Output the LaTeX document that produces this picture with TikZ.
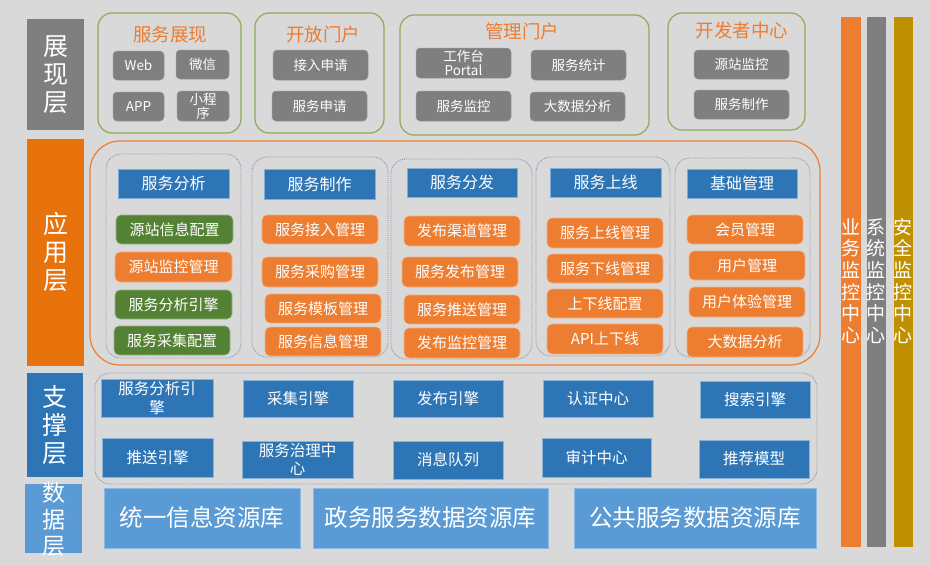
\documentclass[tikz,border=0pt]{standalone}
\usepackage{fontspec}
\setmainfont{Noto Sans CJK SC}
\usetikzlibrary{fit}
\definecolor{bgc}{HTML}{D9D9D9}
\definecolor{gry}{HTML}{7F7F7F}
\definecolor{org}{HTML}{ED7D31}
\definecolor{dorg}{HTML}{E8720C}
\definecolor{blu}{HTML}{2E75B6}
\definecolor{lblu}{HTML}{5B9BD5}
\definecolor{grn}{HTML}{548235}
\definecolor{ggrp}{HTML}{8DAA5A}
\definecolor{gold}{HTML}{BF9000}
\definecolor{dotc}{HTML}{8497B0}
\newcommand{\myfs}[2]{\fontsize{#1}{#2}\selectfont}
\newcommand{\mybox}[7]{\node[#1, fit={(#3,#4) (#5,#6)}] (#2) {};
  \node[#1, draw=none, fill=none, inner sep=0pt] (#2-t) at (#2.center) {#7};}
\tikzset{
  base/.style={inner sep=0pt, outer sep=0pt, align=center},
  lyr/.style={base, text=white, font=\myfs{25}{28}},
  grp/.style={base, draw=ggrp, line width=1.2pt, rounded corners=14pt},
  gtitle/.style={text=org, font=\myfs{18.5}{20}, inner sep=0pt},
  gbox/.style={base, fill=gry, draw=gry!80!white, line width=0.5pt, rounded corners=4pt, text=white, font=\myfs{13.5}{14}},
  appframe/.style={base, draw=org, line width=1.2pt, rounded corners=30pt},
  col/.style={base, draw=dotc, densely dotted, line width=0.9pt, rounded corners=15pt},
  hdr/.style={base, fill=blu, draw=blu!60!white, line width=0.6pt, text=white, font=\myfs{16}{17}},
  obox/.style={base, fill=org, draw=org!60!white, line width=0.6pt, rounded corners=5pt, text=white, font=\myfs{15}{16}},
  gnbox/.style={base, fill=grn, draw=grn!60!white, line width=0.6pt, rounded corners=5pt, text=white, font=\myfs{15}{16}},
  sbox/.style={base, fill=blu, draw=blu!55!white, line width=0.6pt, text=white, font=\myfs{15.5}{18.5}},
  dbox/.style={base, fill=lblu, draw=lblu!70!white, line width=0.6pt, text=white, font=\myfs{23.5}{25}},
  bar/.style={base, draw=white!70!gray, line width=0.5pt},
  bartext/.style={text=white, font=\myfs{19}{21.7}, align=center, inner sep=0pt}
}
\begin{document}
\begin{tikzpicture}[x=1pt,y=-1pt]
\fill[bgc] (0,0) rectangle (930,565);
\useasboundingbox (0,0) rectangle (930,565);

% layer labels
\node[fill=gry, fit={(27,19) (84,130)}, base] (l1) {};
\node[lyr] (l1-t) at (l1.center) {展\\现\\层};
\node[fill=dorg, fit={(27,139) (84,366)}, base] (l2) {};
\node[lyr] (l2-t) at (l2.center) {应\\用\\层};
\node[fill=blu, fit={(27,373) (83,477)}, base] (l3) {};
\node[lyr] (l3-t) at (l3.center) {支\\撑\\层};
\node[fill=lblu, fit={(25,484) (82,553)}, base] (l4) {};
\node[lyr, font=\myfs{23}{26.5}] (l4-t) at ([yshift=-1pt]l4.center) {数\\据\\层};

% presentation layer
\mybox{grp}{g1}{98}{13}{241}{133}{}
\node[gtitle] (t1) at (170,34) {服务展现};
\mybox{gbox}{b11}{113}{51}{164}{80}{Web}
\mybox{gbox}{b12}{176}{50}{229}{79}{微信}
\mybox{gbox}{b13}{113}{92}{164}{121}{APP}
\mybox{gbox}{b14}{177}{91}{229}{121}{小程\\序}

\mybox{grp}{g2}{255}{13}{384}{133}{}
\node[gtitle] (t2) at (323,34) {开放门户};
\mybox{gbox}{b21}{273}{50}{368}{80}{接入申请}
\mybox{gbox}{b22}{272}{91}{367}{121}{服务申请}

\mybox{grp}{g3}{400}{15}{649}{135}{}
\node[gtitle] (t3) at (522,31) {管理门户};
\mybox{gbox}{b31}{416}{48}{511}{78}{工作台\\Portal}
\mybox{gbox}{b32}{531}{50}{626}{80}{服务统计}
\mybox{gbox}{b33}{416}{91}{511}{121}{服务监控}
\mybox{gbox}{b34}{530}{92}{625}{121}{大数据分析}

\mybox{grp}{g4}{668}{13}{805}{130}{}
\node[gtitle] (t4) at (742,30) {开发者中心};
\mybox{gbox}{b41}{694}{50}{789}{79}{源站监控}
\mybox{gbox}{b42}{694}{90}{789}{119}{服务制作}

% application layer
\mybox{appframe}{app}{90}{141}{820}{365}{}
\mybox{col}{c1}{106}{154}{241}{358}{}
\mybox{col}{c2}{252}{157}{388}{357}{}
\mybox{col}{c3}{391}{159}{532}{359}{}
\mybox{col}{c4}{536}{157}{670}{356}{}
\mybox{col}{c5}{675}{158}{810}{357}{}

\mybox{hdr}{h1}{118}{169}{229}{198}{服务分析}
\mybox{hdr}{h2}{264}{169}{375}{199}{服务制作}
\mybox{hdr}{h3}{407}{168}{517}{197}{服务分发}
\mybox{hdr}{h4}{550}{168}{661}{197}{服务上线}
\mybox{hdr}{h5}{687}{169}{797}{198}{基础管理}

\mybox{gnbox}{a11}{116}{215}{233}{244}{源站信息配置}
\mybox{obox}{a12}{115}{252}{232}{282}{源站监控管理}
\mybox{gnbox}{a13}{115}{290}{232}{319}{服务分析引擎}
\mybox{gnbox}{a14}{114}{326}{230}{355}{服务采集配置}

\mybox{obox}{a21}{262}{215}{378}{244}{服务接入管理}
\mybox{obox}{a22}{262}{257}{378}{287}{服务采购管理}
\mybox{obox}{a23}{265}{294}{381}{323}{服务模板管理}
\mybox{obox}{a24}{265}{327}{381}{356}{服务信息管理}

\mybox{obox}{a31}{404}{216}{520}{246}{发布渠道管理}
\mybox{obox}{a32}{402}{257}{518}{287}{服务发布管理}
\mybox{obox}{a33}{404}{295}{520}{324}{服务推送管理}
\mybox{obox}{a34}{404}{328}{520}{358}{发布监控管理}

\mybox{obox}{a41}{547}{218}{663}{248}{服务上线管理}
\mybox{obox}{a42}{547}{254}{663}{283}{服务下线管理}
\mybox{obox}{a43}{547}{289}{663}{318}{上下线配置}
\mybox{obox}{a44}{547}{324}{663}{354}{API上下线}

\mybox{obox}{a51}{687}{215}{803}{244}{会员管理}
\mybox{obox}{a52}{689}{251}{805}{280}{用户管理}
\mybox{obox}{a53}{689}{287}{805}{317}{用户体验管理}
\mybox{obox}{a54}{687}{327}{803}{357}{大数据分析}

% support layer
\mybox{col}{sup}{95}{373}{817}{484}{}
\mybox{sbox}{s11}{101}{379}{213}{417}{服务分析引\\擎}
\mybox{sbox}{s12}{243}{380}{353}{417}{采集引擎}
\mybox{sbox}{s13}{393}{380}{503}{417}{发布引擎}
\mybox{sbox}{s14}{543}{380}{653}{417}{认证中心}
\mybox{sbox}{s15}{700}{381}{810}{418}{搜索引擎}
\mybox{sbox}{s21}{102}{438}{213}{477}{推送引擎}
\mybox{sbox}{s22}{242}{441}{353}{478}{服务治理中\\心}
\mybox{sbox}{s23}{393}{441}{503}{479}{消息队列}
\mybox{sbox}{s24}{542}{438}{651}{477}{审计中心}
\mybox{sbox}{s25}{699}{440}{809}{478}{推荐模型}

% data layer
\mybox{dbox}{d1}{104}{488}{300}{548}{统一信息资源库}
\mybox{dbox}{d2}{313}{488}{548}{548}{政务服务数据资源库}
\mybox{dbox}{d3}{574}{488}{816}{548}{公共服务数据资源库}

% monitoring bars
\mybox{bar, fill=org}{m1}{840}{16}{861}{547}{}
\mybox{bar, fill=gry}{m2}{866}{16}{886}{547}{}
\mybox{bar, fill=gold}{m3}{893}{16}{913}{547}{}
\node[bartext] (m1-t) at (850.5,281) {业\\务\\监\\控\\中\\心};
\node[bartext] (m2-t) at (876,281) {系\\统\\监\\控\\中\\心};
\node[bartext] (m3-t) at (903,281) {安\\全\\监\\控\\中\\心};
\end{tikzpicture}
\end{document}
